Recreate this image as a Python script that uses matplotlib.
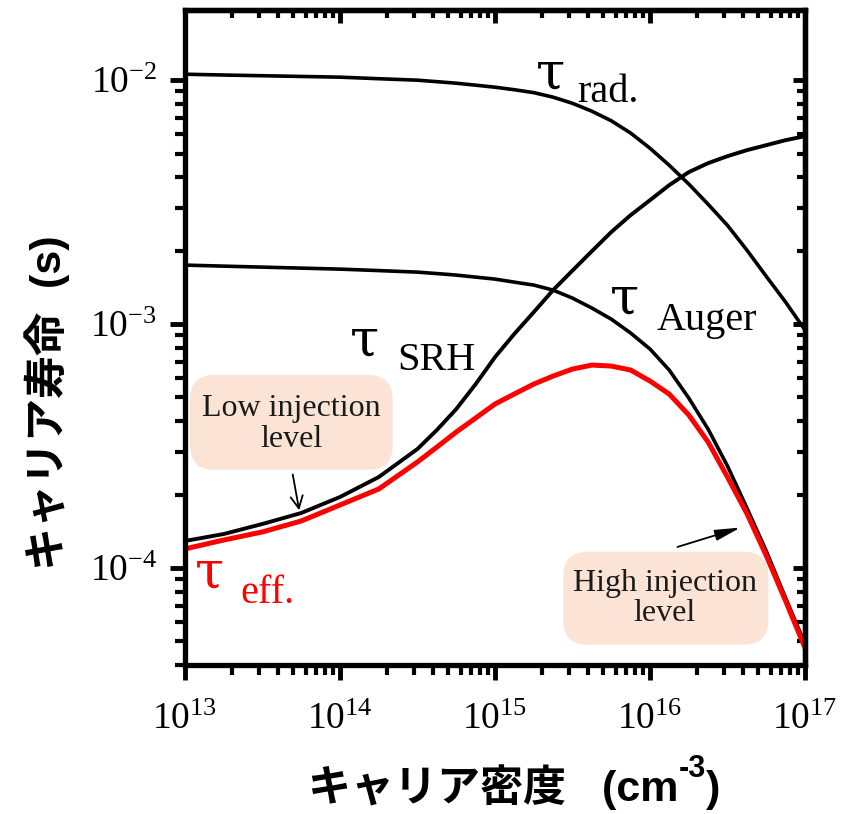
import matplotlib
matplotlib.use("Agg")
import matplotlib.pyplot as plt
from matplotlib.patches import FancyBboxPatch
from matplotlib.ticker import LogLocator, NullFormatter

plt.rcParams["font.family"] = ["Liberation Serif"]
plt.rcParams["mathtext.fontset"] = "custom"
plt.rcParams["mathtext.rm"] = "Liberation Serif"
plt.rcParams["axes.unicode_minus"] = False

# Carrier density (cm^-3) shared by all lifetime curves
density = [1.0e13, 1.78e13, 3.16e13, 5.62e13, 1.0e14, 1.78e14, 3.16e14,
           4.22e14, 5.62e14, 7.5e14, 1.0e15, 1.33e15, 1.78e15, 2.37e15,
           3.16e15, 4.22e15, 5.62e15, 7.5e15, 1.0e16, 1.33e16, 1.78e16,
           2.37e16, 3.16e16, 4.22e16, 5.62e16, 7.5e16, 1.0e17]

# Lifetimes (s)
tau_rad = [1.058e-2, 1.050e-2, 1.043e-2, 1.036e-2, 1.029e-2, 1.014e-2,
           1.000e-2, 9.86e-3, 9.72e-3, 9.54e-3, 9.36e-3, 9.14e-3, 8.89e-3,
           8.52e-3, 8.04e-3, 7.46e-3, 6.82e-3, 6.07e-3, 5.26e-3, 4.48e-3,
           3.75e-3, 3.10e-3, 2.54e-3, 2.01e-3, 1.57e-3, 1.23e-3, 9.45e-4]
tau_auger = [1.745e-3, 1.728e-3, 1.712e-3, 1.696e-3, 1.680e-3, 1.657e-3,
             1.633e-3, 1.611e-3, 1.588e-3, 1.558e-3, 1.529e-3, 1.486e-3,
             1.445e-3, 1.378e-3, 1.278e-3, 1.163e-3, 1.048e-3, 9.19e-4,
             7.90e-4, 6.48e-4, 4.97e-4, 3.71e-4, 2.62e-4, 1.76e-4, 1.174e-4,
             7.53e-5, 4.88e-5]
tau_srh = [1.290e-4, 1.378e-4, 1.515e-4, 1.680e-4, 1.954e-4, 2.360e-4,
           3.074e-4, 3.68e-4, 4.48e-4, 5.67e-4, 7.32e-4, 9.10e-4, 1.120e-3,
           1.378e-3, 1.657e-3, 1.991e-3, 2.383e-3, 2.797e-3, 3.222e-3,
           3.712e-3, 4.198e-3, 4.569e-3, 4.880e-3, 5.165e-3, 5.414e-3,
           5.676e-3, 5.895e-3]
tau_eff = [1.197e-4, 1.302e-4, 1.405e-4, 1.558e-4, 1.812e-4, 2.108e-4,
           2.719e-4, 3.131e-4, 3.608e-4, 4.118e-4, 4.70e-4, 5.165e-4,
           5.676e-4, 6.12e-4, 6.54e-4, 6.79e-4, 6.728e-4, 6.479e-4, 5.839e-4,
           5.165e-4, 4.236e-4, 3.284e-4, 2.360e-4, 1.671e-4, 1.125e-4,
           7.32e-5, 4.70e-5]

x_range = (1e13, 1e17)
y_range = (4.0e-5, 1.94e-2)

fig = plt.figure(figsize=(8.5, 8.14), dpi=100)
ax = fig.add_axes([185 / 850, 149 / 814, 620 / 850, 655 / 814])
ax.set_xscale("log")
ax.set_yscale("log")

ax.plot(density, tau_rad, color="black", lw=2.6)
ax.plot(density, tau_auger, color="black", lw=2.6)
ax.plot(density, tau_srh, color="black", lw=2.8)
ax.plot(density, tau_eff, color="#ff0000", lw=3.6)

# frame and ticks
for sp in ax.spines.values():
    sp.set_linewidth(3.8)
for axis in (ax.xaxis, ax.yaxis):
    axis.set_major_locator(LogLocator(base=10, numticks=10))
    axis.set_minor_locator(LogLocator(base=10, subs=range(2, 10), numticks=20))
    axis.set_minor_formatter(NullFormatter())
ax.set_xlim(*x_range)
ax.set_ylim(*y_range)
ax.tick_params(which="major", direction="out", length=11, width=3.5,
               labelsize=27, top=False, right=False)
ax.tick_params(which="minor", direction="out", length=7, width=3,
               top=False, right=False)
ax.tick_params(axis="x", which="major", pad=16)
ax.tick_params(axis="y", which="major", pad=9)

for side in ("top", "right"):
    sec = ax.secondary_xaxis("top") if side == "top" else ax.secondary_yaxis("right")
    axis = sec.xaxis if side == "top" else sec.yaxis
    axis.set_major_locator(LogLocator(base=10, numticks=10))
    axis.set_minor_locator(LogLocator(base=10, subs=range(2, 10), numticks=20))
    axis.set_major_formatter(NullFormatter())
    axis.set_minor_formatter(NullFormatter())
    sec.tick_params(which="major", direction="in", length=9, width=3.5)
    sec.tick_params(which="minor", direction="in", length=6, width=3)
    for sp in sec.spines.values():
        sp.set_linewidth(3.8)

# curve labels
def tau_label(x, y, sub, sx, sy, color="black"):
    ax.text(x, y, "τ", transform=ax.transAxes, fontsize=38, color=color,
            family="DejaVu Serif", ha="left", va="baseline")
    ax.text(sx, sy, sub, transform=ax.transAxes, fontsize=29, color=color,
            ha="left", va="baseline")

tau_label(0.566, 0.881, "rad.", 0.632, 0.860)
tau_label(0.266, 0.473, "SRH", 0.342, 0.450)
tau_label(0.685, 0.537, "Auger", 0.761, 0.511)
tau_label(0.016, 0.119, "eff.", 0.089, 0.095, color="#ff0000")

# injection-level callouts
box_color = "#fbe4d5"
for (x0, y0, w, h, txt, cx, cy) in [
    (0.008, 0.298, 0.327, 0.145, "Low injection\nlevel", 0.171, 0.368),
    (0.610, 0.031, 0.331, 0.142, "High injection\nlevel", 0.774, 0.102),
]:
    ax.add_patch(FancyBboxPatch((x0, y0), w, h, transform=ax.transAxes,
                                boxstyle="round,pad=0,rounding_size=0.04",
                                mutation_aspect=620 / 655,
                                facecolor=box_color, edgecolor="none", zorder=1))
    ax.text(cx, cy, txt, transform=ax.transAxes, fontsize=23, color="#1a1a1a",
            ha="center", va="center", linespacing=1.05, zorder=2)

ax.annotate("", xy=(0.185, 0.232), xytext=(0.173, 0.295),
            xycoords="axes fraction", textcoords="axes fraction",
            arrowprops=dict(arrowstyle="->", lw=1.3, color="black",
                            mutation_scale=22))
ax.annotate("", xy=(0.900, 0.211), xytext=(0.790, 0.179),
            xycoords="axes fraction", textcoords="axes fraction",
            arrowprops=dict(arrowstyle="-|>,head_width=0.15,head_length=0.7",
                            lw=1.3, color="black", mutation_scale=22))

# axis titles
label_font = dict(family=["Liberation Sans", "Noto Sans CJK JP"],
                  fontweight="bold", color="black")
fig.text(47 / 850, 1 - 403 / 814, "キャリア寿命  (s)", rotation=90,
         ha="center", va="center", fontsize=31, **label_font)

t1 = fig.text(308 / 850, 1 - 801 / 814, "キャリア密度   (cm", ha="left",
              va="baseline", fontsize=31, **label_font)
t2 = ax.annotate("-3", xy=(1, 1 - 777 / 814), xycoords=(t1, fig.transFigure),
                 ha="left", va="baseline", fontsize=22, **label_font,
                 annotation_clip=False)
ax.annotate(")", xy=(1, 1 - 801 / 814), xycoords=(t2, fig.transFigure),
            ha="left", va="baseline", fontsize=31, **label_font,
            annotation_clip=False)

fig.savefig("out.png", dpi=100)
